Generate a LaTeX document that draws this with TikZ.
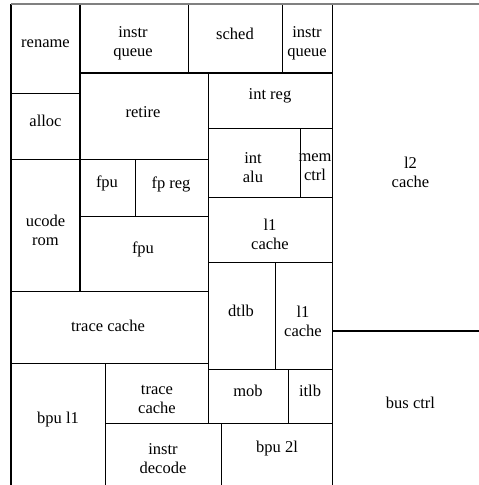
\documentclass[tikz,border=0pt]{standalone}
\usepackage{fontspec}
\setmainfont{Liberation Serif}
\begin{document}
\begin{tikzpicture}[x=1pt,y=-1pt,
  box/.style={draw=black,line width=1pt},
  thick box/.style={draw=black,line width=1.8pt},
  lbl/.style={font=\fontsize{16.5}{19}\selectfont,align=center,inner sep=0pt}]
\useasboundingbox (0,0) rectangle (479,485);
\begin{scope}
\clip (0,0) rectangle (479,485);
% boxes
\draw[box] (11,4) rectangle (80,93);
\draw[box] (80,4) rectangle (188,73);
\draw[box] (188,4) rectangle (282,73);
\draw[box] (282,4) rectangle (332,73);
\draw[box] (11,93) rectangle (80,159);
\draw[box] (80,73) rectangle (208,159);
\draw[box] (208,73) rectangle (332,128);
\draw[box] (208,128) rectangle (300,197);
\draw[box] (300,128) rectangle (332,197);
\draw[box] (80,159) rectangle (135,216);
\draw[box] (135,159) rectangle (208,216);
\draw[box] (11,159) rectangle (80,291);
\draw[box] (80,216) rectangle (208,291);
\draw[box] (208,197) rectangle (332,262);
\draw[box] (208,262) rectangle (275,369);
\draw[box] (275,262) rectangle (332,369);
\draw[box] (11,291) rectangle (208,363);
\draw[box] (11,363) rectangle (105,495);
\draw[box] (105,363) rectangle (208,423);
\draw[box] (105,423) rectangle (221,495);
\draw[box] (208,369) rectangle (288,423);
\draw[box] (288,369) rectangle (332,423);
\draw[box] (221,423) rectangle (332,495);
\draw[box] (332,4) rectangle (495,331);
\draw[box] (332,331) rectangle (495,495);
% bolder borders
\draw[draw=black,line width=1.3pt] (11,4) -- (11,495);
\draw[thick box] (80,4) -- (80,291);
\draw[thick box] (80,73) -- (332,73);
\draw[thick box] (332,331) -- (495,331);
% top rule
\draw[gray,line width=2pt] (11,4) -- (495,4);
\end{scope}
% labels
\node[lbl] (rename) at (45.5,44) {rename};
\node[lbl] (iq1) at (133,43.5) {instr\\queue};
\node[lbl] (sched) at (235,34) {sched};
\node[lbl] (iq2) at (307,43.5) {instr\\queue};
\node[lbl] (alloc) at (45.5,121) {alloc};
\node[lbl] (retire) at (143,112) {retire};
\node[lbl] (intreg) at (270,96) {int reg};
\node[lbl] (intalu) at (253,167.5) {int\\alu};
\node[lbl] (memctrl) at (315,167.5) {mem\\ctrl};
\node[lbl] (l2) at (410.5,172.5) {l2\\cache};
\node[lbl] (fpu1) at (107,183.5) {fpu};
\node[lbl] (fpreg) at (171,184) {fp reg};
\node[lbl] (ucode) at (45.5,230.5) {ucode\\rom};
\node[lbl] (fpu2) at (143,249.5) {fpu};
\node[lbl] (l1a) at (270,234.5) {l1\\cache};
\node[lbl] (dtlb) at (241,311) {dtlb};
\node[lbl] (l1b) at (303,321) {l1\\cache};
\node[lbl] (trace) at (108,326) {trace cache};
\node[lbl] (trace2) at (157,399) {trace\\cache};
\node[lbl] (bpu1) at (58,419.5) {bpu l1};
\node[lbl] (decode) at (163,459) {instr\\decode};
\node[lbl] (mob) at (248,391) {mob};
\node[lbl] (itlb) at (310,391) {itlb};
\node[lbl] (bpu2) at (277,449) {bpu 2l};
\node[lbl] (bus) at (410.5,402.5) {bus ctrl};
\end{tikzpicture}
\end{document}
